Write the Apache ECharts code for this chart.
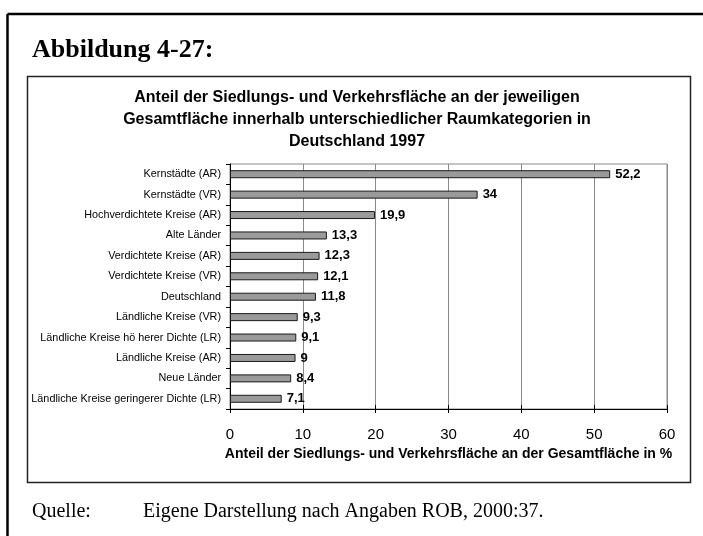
<!DOCTYPE html>
<html>
<head>
<meta charset="utf-8">
<script src="https://cdn.jsdelivr.net/npm/echarts@6/dist/echarts.min.js"></script>
<style>
html, body { margin: 0; padding: 0; background: #fff; }
#main { width: 703px; height: 536px; }
</style>
</head>
<body>
<div id="main"></div>
<script>
var categories = ['Kernstädte (AR)', 'Kernstädte (VR)', 'Hochverdichtete Kreise (AR)', 'Alte Länder',
    'Verdichtete Kreise (AR)', 'Verdichtete Kreise (VR)', 'Deutschland', 'Ländliche Kreise (VR)',
    'Ländliche Kreise hö herer Dichte (LR)', 'Ländliche Kreise (AR)', 'Neue Länder',
    'Ländliche Kreise geringerer Dichte (LR)']
var values = [52.2, 34, 19.9, 13.3, 12.3, 12.1, 11.8, 9.3, 9.1, 9, 8.4, 7.1]
var xTicks = [0, 10, 20, 30, 40, 50, 60]

var chart = echarts.init(document.getElementById('main'))

var option = {
    animation: false,
    backgroundColor: '#fff',
    grid: {
        left: 230, right: 36, top: 164, bottom: 127,
        show: true, borderColor: '#8a8a8a', borderWidth: 1
    },
    xAxis: [{
        type: 'value',
        min: xTicks[0], max: xTicks[xTicks.length - 1], interval: 10,
        axisLine: { show: true, lineStyle: { color: '#000', width: 1 } },
        axisTick: { show: true, inside: false, length: 4, lineStyle: { color: '#000' } },
        axisLabel: { margin: 18, fontFamily: 'Liberation Sans', fontSize: 15, color: '#000' },
        splitLine: { show: true, lineStyle: { color: '#8a8a8a', width: 1 } },
        name: 'Anteil der Siedlungs- und Verkehrsfläche an der Gesamtfläche in %',
        nameLocation: 'middle', nameGap: 38,
        nameTextStyle: { fontFamily: 'Liberation Sans', fontWeight: 'bold', fontSize: 14, color: '#000' }
    }, {
        type: 'value',
        position: 'bottom',
        min: xTicks[0], max: xTicks[xTicks.length - 1], interval: 10,
        axisLine: { show: false },
        axisTick: { show: true, inside: true, length: 4, lineStyle: { color: '#000' } },
        axisLabel: { show: false },
        splitLine: { show: false }
    }],
    yAxis: {
        type: 'category',
        inverse: true,
        data: categories,
        axisLine: { show: true, lineStyle: { color: '#000', width: 1 } },
        axisTick: { show: true, length: 4, lineStyle: { color: '#000' } },
        axisLabel: { margin: 9, fontFamily: 'Liberation Sans', fontSize: 10.8, color: '#000' }
    },
    series: [{
        type: 'bar',
        data: values,
        barWidth: 8,
        itemStyle: { color: '#9a9a9a', borderColor: '#1a1a1a', borderWidth: 1 },
        label: {
            show: true, position: 'right', distance: 5,
            fontFamily: 'Liberation Sans', fontWeight: 'bold', fontSize: 13, color: '#000',
            formatter: function (p) { return String(p.value).replace('.', ',') }
        }
    }],
    graphic: [
        { type: 'line', shape: { x1: 7.5, y1: 14, x2: 703, y2: 14 }, style: { stroke: '#000', lineWidth: 2.5 } },
        { type: 'line', shape: { x1: 7.5, y1: 14, x2: 7.5, y2: 536 }, style: { stroke: '#000', lineWidth: 2.5 } },
        { type: 'rect', shape: { x: 27.5, y: 76.5, width: 663, height: 406 }, style: { fill: 'none', stroke: '#222', lineWidth: 1.5 } },
        { type: 'text', x: 32, y: 50, style: { text: 'Abbildung 4-27:', fontFamily: 'Liberation Serif', fontWeight: 'bold', fontSize: 26, fill: '#000', verticalAlign: 'middle' } },
        { type: 'text', x: 357, y: 87, style: {
            text: 'Anteil der Siedlungs- und Verkehrsfläche an der jeweiligen\nGesamtfläche innerhalb unterschiedlicher Raumkategorien in\nDeutschland 1997',
            fontFamily: 'Liberation Sans', fontWeight: 'bold', fontSize: 16, lineHeight: 22,
            fill: '#000', align: 'center', verticalAlign: 'top' } },
        { type: 'text', x: 32, y: 512, style: { text: 'Quelle:', fontFamily: 'Liberation Serif', fontSize: 20, fill: '#000', verticalAlign: 'middle' } },
        { type: 'text', x: 143, y: 512, style: { text: 'Eigene Darstellung nach Angaben ROB, 2000:37.', fontFamily: 'Liberation Serif', fontSize: 20, fill: '#000', verticalAlign: 'middle' } }
    ]
}

chart.setOption(option)
</script>
</body>
</html>
